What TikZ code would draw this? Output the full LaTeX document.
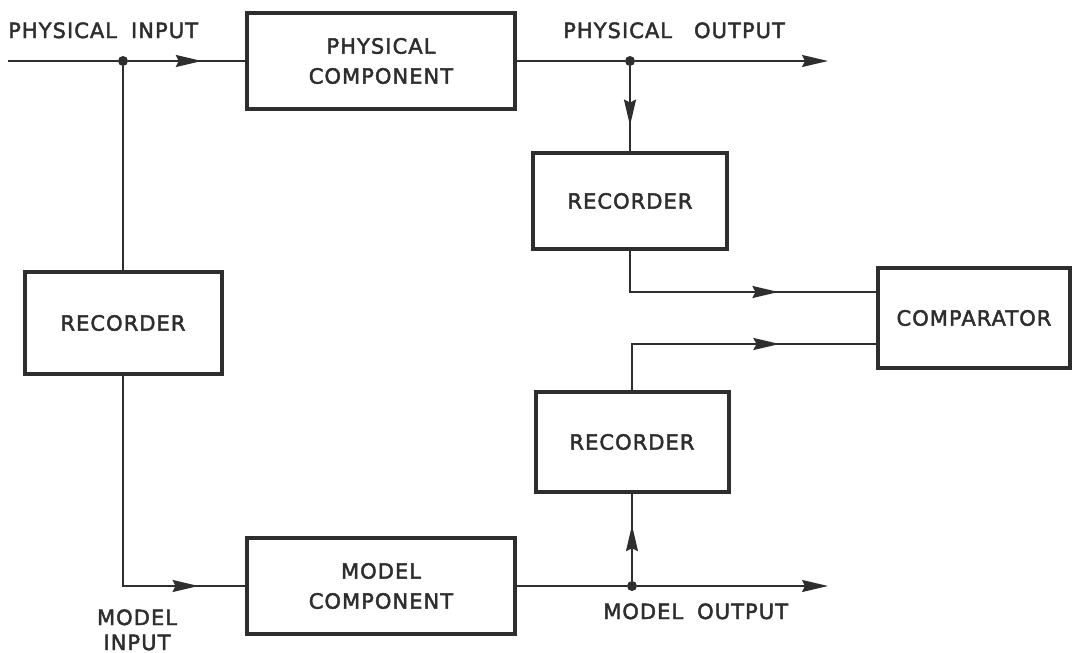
\documentclass[tikz,border=0pt]{standalone}
\usepackage{fontspec}
\setmainfont{DejaVu Sans}[LetterSpace=5,FakeBold=2.2]
\usetikzlibrary{arrows.meta,decorations.markings,calc}
\definecolor{ink}{HTML}{2E2E2E}
\newcommand{\gap}{\hspace{14pt}}

\begin{document}
\begin{tikzpicture}[x=1pt,y=-1pt,every node/.style={font=\fontsize{21}{30}\selectfont,text=ink},
    block/.style={draw=ink,line width=4pt,minimum height=96pt,align=center,inner sep=0pt},
    tag/.style={font=\fontsize{21}{25}\selectfont,align=center,inner sep=0pt},
    dot/.style={circle,fill=ink,inner sep=0pt,minimum size=10pt},
    wire/.style={draw=ink,line width=1.8pt},
    head/.style={-{Stealth[length=26pt,width=12pt,inset=3pt]}},
    flow/.style={decoration={markings,mark=at position #1 with {\arrow{Stealth[length=26pt,width=12pt,inset=3pt]}}},postaction={decorate}}]
  \useasboundingbox (0,0) rectangle (1074,653);
  % blocks
  \node[block,minimum width=268pt] (phys) at (381,61) {PHYSICAL\\COMPONENT};
  \node[block,minimum width=194pt] (recP) at (630,201) {RECORDER};
  \node[block,minimum width=192pt,minimum height=100pt] (comp) at (974,318) {COMPARATOR};
  \node[block,minimum width=193pt,minimum height=100pt] (recM) at (632,442) {RECORDER};
  \node[block,minimum width=268pt] (model) at (381,586) {MODEL\\COMPONENT};
  \node[block,minimum width=197pt,minimum height=102pt] (recI) at (123,323) {RECORDER};
  % junctions and free ends
  \coordinate (inlet) at (8,61);
  \node[dot] (splitin) at (123,61) {};
  \node[dot] (splitP) at (630,61) {};
  \node[dot] (splitM) at (632,586) {};
  \coordinate (outP) at (828,61);
  \coordinate (outM) at (828,586);
  \coordinate (compA) at ($(comp.west)!0.5!(comp.north west)$);
  \coordinate (compB) at ($(comp.west)!0.5!(comp.south west)$);
  % labels
  \node[tag,anchor=base west] (inlab) at (8,38) {PHYSICAL\gap INPUT};
  \node[tag,anchor=base west] (outlab) at (563,38) {PHYSICAL\hspace{22pt}OUTPUT};
  \node[tag,anchor=base west] (moutlab) at (603,619) {MODEL\gap OUTPUT};
  \node[tag,anchor=base] (minlab) at (137,650) {MODEL\\INPUT};
  % connectors
  \draw[wire] (inlet) -- (splitin);
  \draw[wire,flow=0.63] (splitin) -- (phys.west);
  \draw[wire] (splitin) -- (recI.north);
  \draw[wire,flow=0.86] (recI.south) |- (model.west);
  \draw[wire] (phys.east) -- (splitP);
  \draw[wire,head] (splitP) -- (outP);
  \draw[wire,flow=0.7] (splitP) -- (recP.north);
  \draw[wire,flow=0.66] (recP.south) |- (compA);
  \draw[wire,flow=0.667] (recM.north) |- (compB);
  \draw[wire] (model.east) -- (splitM);
  \draw[wire,head] (splitM) -- (outM);
  \draw[wire,flow=0.64] (splitM) -- (recM.south);
\end{tikzpicture}
\end{document}
